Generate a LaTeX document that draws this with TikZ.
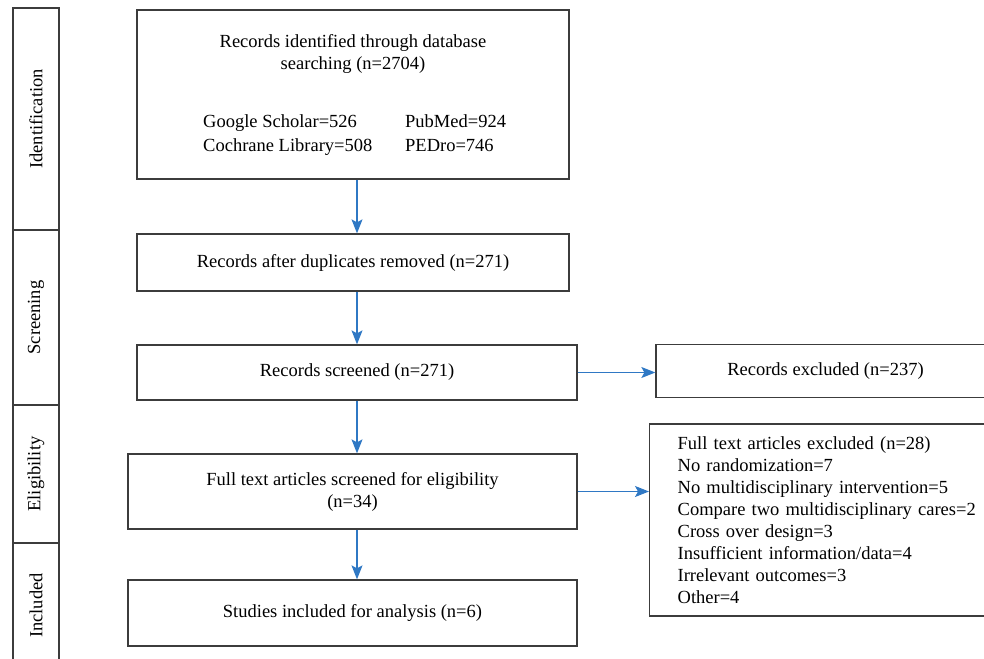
\documentclass[tikz,border=0pt]{standalone}
\usepackage{fontspec}
\setmainfont{Liberation Serif}
\usetikzlibrary{positioning,arrows.meta}
\definecolor{flowblue}{HTML}{2F78C4}
\definecolor{boxgray}{HTML}{3C3C3C}

\begin{document}
\begin{tikzpicture}[x=1pt,y=-1pt,font=\fontsize{18.5}{22}\selectfont]
	\tikzstyle{box}=[rectangle,draw=boxgray,line width=1.3pt,inner sep=0pt,align=center]
	\tikzstyle{stage}=[box,rotate=90,minimum height=46pt]
	\tikzstyle{txt}=[inner sep=0pt]
	\tikzstyle{flow}=[draw=flowblue,line width=1.2pt,-{Stealth[length=14pt,width=11pt,inset=3pt]}]
	\useasboundingbox (0,0) rectangle (984,658);
		% stages on the left
		\node[stage,minimum width=222pt] (ident) at (36,119) {Identification};
		\node[stage,minimum width=175pt] (screen) at (36,317.5) {Screening};
		\node[stage,minimum width=138pt] (elig) at (36,474) {Eligibility};
		\node[stage,minimum width=125pt] (incl) at (36,605.5) {Included};
		% main column
		\node[box,minimum width=432pt,minimum height=169pt] (found) at (353,94.5) {};
		\node[txt,anchor=base] (foundtop) at (353,48) {Records identified through database};
		\node[txt,anchor=base] (foundbot) at (353,70) {searching (n=2704)};
		\node[txt,anchor=base west] (scholar) at (203,128) {Google Scholar=526};
		\node[txt,anchor=base west] (cochrane) at (203,151) {Cochrane Library=508};
		\node[txt,anchor=base west] (pubmed) at (405,128) {PubMed=924};
		\node[txt,anchor=base west] (pedro) at (405,151) {PEDro=746};
		\node[box,minimum width=432pt,minimum height=57pt] (dedup) at (353,262.5) {Records after duplicates removed (n=271)};
		\node[box,minimum width=440pt,minimum height=55pt] (screened) at (357,372.5) {Records screened (n=271)};
		\node[box,minimum width=449pt,minimum height=75pt] (fulltext) at (352.5,491.5) {Full text articles screened for eligibility\\(n=34)};
		\node[box,minimum width=449pt,minimum height=66pt] (included) at (352.5,613) {Studies included for analysis (n=6)};
		% exclusions on the right
		\node[box,minimum width=339pt,minimum height=53pt] (excluded) at (825.5,371) {Records excluded (n=237)};
		\node[box,align=left,text width=320pt,inner xsep=28pt,minimum height=192pt,anchor=west] (ftexcl) at (649,520) {Full text articles excluded (n=28)\\
			No randomization=7\\
			No multidisciplinary intervention=5\\
			Compare two multidisciplinary cares=2\\
			Cross over design=3\\
			Insufficient information/data=4\\
			Irrelevant outcomes=3\\
			Other=4};
		\coordinate (spine) at (357,0);
			\draw[flow] (found.south -| spine) -- (dedup.north -| spine);
			\draw[flow] (dedup.south -| spine) -- (screened.north -| spine);
			\draw[flow] (screened.south -| spine) -- (fulltext.north -| spine);
			\draw[flow] (fulltext.south -| spine) -- (included.north -| spine);
			\draw[flow] (screened.east) -- (screened.east -| excluded.west);
			\draw[flow] (fulltext.east) -- (fulltext.east -| ftexcl.west);
\end{tikzpicture}
\end{document}
